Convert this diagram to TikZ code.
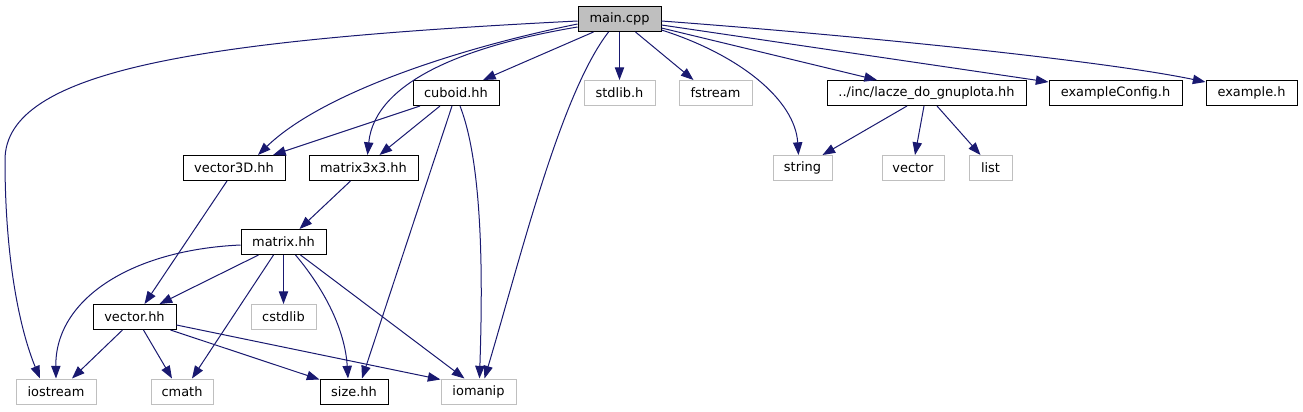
\documentclass[tikz,border=0pt]{standalone}
\usepackage{fontspec}
\setmainfont{DejaVu Sans}
\usetikzlibrary{arrows.meta,calc}
\definecolor{edgec}{HTML}{191970}
\definecolor{grayc}{HTML}{BFBFBF}
\begin{document}
\begin{tikzpicture}[x=0.75pt,y=-0.75pt,
 nd/.style={draw=black, line width=0.75pt, minimum height=18.75pt, inner sep=0pt,
   font=\fontsize{9.7}{11}\selectfont, minimum width=#1*0.75pt},
 gn/.style={nd=#1, draw=grayc},
 mn/.style={nd=#1, fill=grayc, draw=black},
 edge/.style={draw=edgec, line width=0.75pt, -{Triangle[length=9.5pt,width=7pt]}}]
\fill[white] (0,0) rectangle (1303,411);
\useasboundingbox (0,0) rectangle (1303,411);

\node[mn=83] (main) at (619.5,19) {main.cpp};
\node[nd=86] (cuboid) at (456,93) {cuboid.hh};
\node[gn=71] (stdlib) at (619.5,93) {stdlib.h};
\node[gn=73] (fstream) at (715.5,93) {fstream};
\node[nd=199] (lacze) at (926.5,93) {../inc/lacze\_do\_gnuplota.hh};
\node[nd=133] (excfg) at (1115.5,93) {exampleConfig.h};
\node[nd=91] (ex) at (1251.5,93) {example.h};
\node[nd=102] (v3d) at (234,168) {vector3D.hh};
\node[nd=109] (m3) at (363.5,168) {matrix3x3.hh};
\node[gn=59] (string) at (802.5,168) {string};
\node[gn=62] (vector) at (913,168) {vector};
\node[gn=43] (list) at (990.5,168) {list};
\node[nd=85] (matrix) at (283.5,242) {matrix.hh};
\node[nd=83] (vech) at (134.5,317) {vector.hh};
\node[gn=65] (cstdlib) at (283.5,317) {cstdlib};
\node[gn=80] (iostream) at (56,391.5) {iostream};
\node[gn=62] (cmath) at (182,391.5) {cmath};
\node[nd=68] (size) at (354,391.5) {size.hh};
\node[gn=75] (iomanip) at (478.5,391.5) {iomanip};

% main.cpp
\draw[edge] ($(main.west)+(0,2)$) .. controls (200,40) and (5,70) .. (5,160)
  .. controls (5,260) and (20,330) .. ($(iostream.north)+(-16,0)$);
\draw[edge] ($(main.west)+(0,5)$) .. controls (450,50) and (320,95) .. ($(v3d.north)+(24,0)$);
\draw[edge] ($(main.west)+(0,8)$) .. controls (470,45) and (375,80) .. ($(m3.north)+(4,0)$);
\draw[edge] ($(main.south)+(-26,0)$) -- ($(cuboid.north)+(27,0)$);
\draw[edge] ($(main.south)+(-11,0)$) .. controls (560,95) and (520,260) .. ($(iomanip.north)+(6,0)$);
\draw[edge] (main.south) -- (stdlib.north);
\draw[edge] ($(main.south)+(16,0)$) -- ($(fstream.north)+(-22,0)$);
\draw[edge] ($(main.south east)+(0,-2)$) .. controls (740,55) and (795,100) .. ($(string.north)+(-4,0)$);
\draw[edge] ($(main.east)+(0,9)$) -- ($(lacze.north)+(-49.5,0)$);
\draw[edge] ($(main.east)+(0,6)$) -- ($(excfg.north west)+(0,2)$);
\draw[edge] ($(main.east)+(0,2)$) .. controls (850,35) and (1100,60) .. ($(ex.north west)+(0,2)$);

% cuboid.hh
\draw[edge] ($(cuboid.south)+(-36,0)$) -- ($(v3d.north)+(39,0)$);
\draw[edge] ($(cuboid.south)+(-16,0)$) -- ($(m3.north)+(16,0)$);
\draw[edge] ($(cuboid.south)+(-4,0)$) -- ($(size.north)+(8,0)$);
\draw[edge] ($(cuboid.south)+(4,0)$) .. controls (485,170) and (482,300) .. ($(iomanip.north)+(1,0)$);

% vector3D.hh, matrix3x3.hh
\draw[edge] ($(v3d.south)+(-7,0)$) -- ($(vech.north)+(10,0)$);
\draw[edge] ($(m3.south)+(-13,0)$) -- ($(matrix.north)+(16,0)$);

% matrix.hh
\draw[edge] ($(matrix.west)+(0,3)$) .. controls (130,250) and (55,300) .. (iostream.north);
\draw[edge] ($(matrix.south)+(-25,0)$) -- ($(vech.north)+(25,0)$);
\draw[edge] ($(matrix.south)+(-10,0)$) -- ($(cmath.north)+(10,0)$);
\draw[edge] (matrix.south) -- (cstdlib.north);
\draw[edge] ($(matrix.south)+(12,0)$) .. controls (325,290) and (345,330) .. ($(size.north)+(-6,0)$);
\draw[edge] ($(matrix.south)+(17,0)$) -- ($(iomanip.north)+(-14,0)$);

% vector.hh
\draw[edge] ($(vech.south)+(-12,0)$) -- ($(iostream.north)+(16,0)$);
\draw[edge] ($(vech.south)+(9,0)$) -- ($(cmath.north)+(-10,0)$);
\draw[edge] ($(vech.south)+(36,0)$) -- ($(size.north west)+(0,1)$);
\draw[edge] ($(vech.east)+(0,8)$) -- ($(iomanip.north west)+(0,1)$);

% lacze
\draw[edge] ($(lacze.south)+(-19.5,0)$) -- ($(string.north)+(20,0)$);
\draw[edge] ($(lacze.south)+(-2.5,0)$) -- ($(vector.north)+(2,0)$);
\draw[edge] ($(lacze.south)+(10.5,0)$) -- ($(list.north)+(-10,0)$);
\end{tikzpicture}
\end{document}
